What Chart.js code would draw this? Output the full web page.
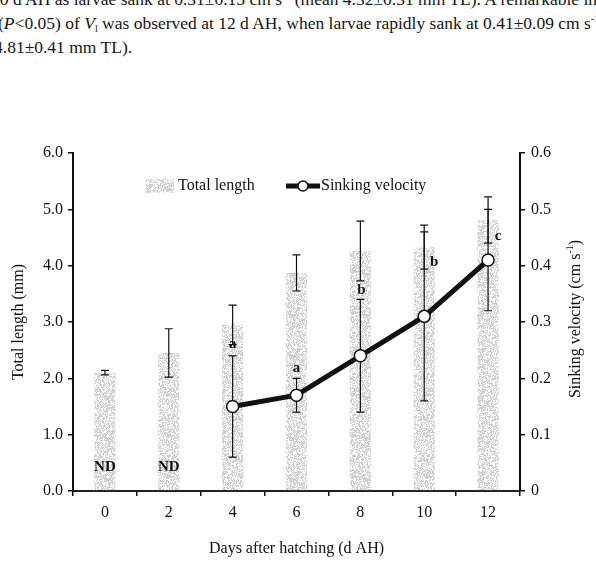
<!DOCTYPE html>
<html>
<head>
<meta charset="utf-8">
<script src="https://cdn.jsdelivr.net/npm/chart.js@4.4.1/dist/chart.umd.min.js"></script>
<style>
  html, body { margin: 0; padding: 0; background: #fff; }
  #wrap { position: relative; width: 596px; height: 572px; overflow: hidden; }
  #chart { position: absolute; left: 0; top: 0; }
  .txt { position: absolute; white-space: nowrap; font-family: "Liberation Serif", serif; font-size: 17.5px; line-height: 17.5px; color: #151515; }
  .sup { font-size: 10px; position: relative; top: -7px; }
  .sub { font-size: 10px; position: relative; top: 3px; }
</style>
</head>
<body>
<div id="wrap">
  <div class="txt" style="left:-9px; top:-9px;">10 d AH as larvae sank at 0.31±0.15 cm s<span class="sup">-1</span> (mean 4.32±0.31 mm TL). A remarkable inc</div>
  <div class="txt" style="left:-2px; top:15px;">(<i>P</i>&lt;0.05) of <i>V</i><span class="sub">l</span> was observed at 12 d AH, when larvae rapidly sank at 0.41±0.09 cm s<span class="sup">-1</span> (</div>
  <div class="txt" style="left:-6px; top:39px;">4.81±0.41 mm TL).</div>
  <canvas id="chart" width="596" height="572"></canvas>
</div>
<script>
// data
const days = ['0', '2', '4', '6', '8', '10', '12'];
const totalLength = [2.1, 2.45, 2.95, 3.87, 4.26, 4.33, 4.81];
const totalLengthSd = [0.04, 0.43, 0.35, 0.32, 0.53, 0.39, 0.41];
const sinkingVelocity = [null, null, 0.15, 0.17, 0.24, 0.31, 0.41];
const sinkingVelocitySd = [null, null, 0.09, 0.03, 0.10, 0.15, 0.09];
const letters = [null, null, 'a', 'a', 'b', 'b', 'c'];
const noData = ['ND', 'ND', null, null, null, null, null];

const serif = '"Liberation Serif", "Times New Roman", serif';

// faint speckled grey fill, like the scanned bars (fixed hash, not data)
function makeStipple() {
    const w = 37, h = 41;
    const c = document.createElement('canvas');
    c.width = w; c.height = h;
    const g = c.getContext('2d');
    for (let i = 0; i < w * h; i++) {
        let k = Math.imul(i + 17, 2654435761) >>> 0;
        k ^= k >>> 15; k = Math.imul(k, 2246822519) >>> 0; k ^= k >>> 13;
        const r = k % 100;
        if (r < 4) g.fillStyle = 'rgba(150,150,150,0.45)';
        else if (r < 13) g.fillStyle = 'rgba(200,200,200,0.4)';
        else continue;
        g.fillRect(i % w, Math.floor(i / w), 1, 1);
    }
    return document.getElementById('chart').getContext('2d').createPattern(c, 'repeat');
}
const stipple = makeStipple();

function errBar(ctx, x, yTop, yBot) {
    ctx.beginPath();
    ctx.moveTo(x, yTop); ctx.lineTo(x, yBot);
    ctx.moveTo(x - 4, yTop); ctx.lineTo(x + 4, yTop);
    ctx.moveTo(x - 4, yBot); ctx.lineTo(x + 4, yBot);
    ctx.stroke();
}

const errorBars = {
    id: 'errorBars',
    afterDatasetDraw(chart, args) {
        if (args.index !== 0) return;
        const ctx = chart.ctx;
        const x = chart.scales.x, y = chart.scales.y, y1 = chart.scales.y1;
        ctx.save();
        ctx.strokeStyle = '#111';
        ctx.lineWidth = 1.2;
        days.forEach((d, i) => {
            const px = x.getPixelForValue(i);
            errBar(ctx, px, y.getPixelForValue(totalLength[i] + totalLengthSd[i]),
                y.getPixelForValue(totalLength[i] - totalLengthSd[i]));
            if (sinkingVelocity[i] !== null) {
                errBar(ctx, px, y1.getPixelForValue(sinkingVelocity[i] + sinkingVelocitySd[i]),
                    y1.getPixelForValue(sinkingVelocity[i] - sinkingVelocitySd[i]));
            }
        });
        ctx.restore();
    }
};

const annotations = {
    id: 'annotations',
    afterDraw(chart) {
        const ctx = chart.ctx;
        const x = chart.scales.x, y = chart.scales.y, y1 = chart.scales.y1;
        ctx.save();
        ctx.fillStyle = '#111';
        ctx.textAlign = 'center';
        ctx.textBaseline = 'middle';

        // ND labels
        ctx.font = 'bold 15px ' + serif;
        noData.forEach((t, i) => {
            if (t) ctx.fillText(t, x.getPixelForValue(i), y.getPixelForValue(0.43));
        });

        // significance letters
        ctx.font = 'bold 15px ' + serif;
        letters.forEach((t, i) => {
            if (!t) return;
            const px = x.getPixelForValue(i);
            const lowTL = y.getPixelForValue(totalLength[i] - totalLengthSd[i]);
            const topV = y1.getPixelForValue(sinkingVelocity[i] + sinkingVelocitySd[i]);
            if (i === 2) ctx.fillText(t, px, lowTL);
            else if (i === 3) ctx.fillText(t, px, topV - 10);
            else if (i === 4) ctx.fillText(t, px + 1, (lowTL + topV) / 2);
            else ctx.fillText(t, px + 10, lowTL - 7);
        });

        // legend inside the plot
        const ly = 186;
        ctx.fillStyle = stipple;
        ctx.fillRect(146, ly - 7, 28, 14);
        ctx.fillStyle = '#111';
        ctx.font = '16px ' + serif;
        ctx.textAlign = 'left';
        ctx.fillText('Total length', 178, ly);
        ctx.strokeStyle = '#111';
        ctx.lineWidth = 5;
        ctx.beginPath(); ctx.moveTo(286, ly); ctx.lineTo(320, ly); ctx.stroke();
        ctx.beginPath(); ctx.arc(303, ly, 5, 0, Math.PI * 2);
        ctx.fillStyle = '#fff'; ctx.fill();
        ctx.lineWidth = 1.5; ctx.stroke();
        ctx.fillStyle = '#111';
        ctx.fillText('Sinking velocity', 321, ly);

        // right axis title, read bottom to top like the left one
        ctx.translate(576, (y1.top + y1.bottom) / 2 - 3);
        ctx.rotate(-Math.PI / 2);
        const main = 'Sinking velocity (cm s';
        ctx.font = '16px ' + serif;
        const wMain = ctx.measureText(main).width;
        ctx.font = '10px ' + serif;
        const wSup = ctx.measureText('-1').width;
        ctx.font = '16px ' + serif;
        const wEnd = ctx.measureText(')').width;
        let sx = -(wMain + wSup + wEnd) / 2;
        ctx.textAlign = 'left';
        ctx.fillText(main, sx, 0);
        sx += wMain;
        ctx.font = '10px ' + serif;
        ctx.fillText('-1', sx, -6);
        sx += wSup;
        ctx.font = '16px ' + serif;
        ctx.fillText(')', sx, 0);
        ctx.restore();
    }
};

const tickFont = { family: serif, size: 16 };
const titleFont = { family: serif, size: 16 };

new Chart(document.getElementById('chart'), {
    data: {
        labels: days,
        datasets: [
            {
                type: 'bar',
                label: 'Total length',
                data: totalLength,
                yAxisID: 'y',
                backgroundColor: stipple,
                borderWidth: 0,
                barPercentage: 0.33,
                categoryPercentage: 1.0,
                order: 2
            },
            {
                type: 'line',
                label: 'Sinking velocity',
                data: sinkingVelocity,
                yAxisID: 'y1',
                borderColor: '#111',
                borderWidth: 5,
                pointRadius: 6,
                pointBackgroundColor: '#fff',
                pointBorderColor: '#111',
                pointBorderWidth: 1.5,
                tension: 0,
                order: 1
            }
        ]
    },
    options: {
        responsive: false,
        animation: false,
        layout: { padding: { top: 153, left: 0, right: 0, bottom: 0 } },
        plugins: { legend: { display: false }, tooltip: { enabled: false } },
        scales: {
            x: {
                type: 'category',
                offset: true,
                grid: { offset: true, drawOnChartArea: false, tickLength: 5, color: '#111', lineWidth: 1.5 },
                border: { display: true, color: '#222', width: 2 },
                ticks: { font: tickFont, color: '#111', padding: 7, maxRotation: 0 },
                title: { display: true, text: 'Days after hatching (d AH)', font: titleFont, color: '#111', padding: { top: 0, bottom: 14 } },
                afterFit: s => { s.height = 81; }
            },
            y: {
                position: 'left',
                min: 0, max: 6,
                grid: { drawOnChartArea: false, tickLength: 5, color: '#111', lineWidth: 1.5 },
                border: { display: true, color: '#111', width: 2 },
                ticks: { stepSize: 1, font: tickFont, color: '#111', padding: 5, callback: v => v.toFixed(1) },
                title: { display: true, text: 'Total length (mm)', font: titleFont, color: '#111', padding: { top: 9, bottom: 0 } },
                afterFit: s => { s.width = 73; }
            },
            y1: {
                position: 'right',
                min: 0, max: 0.6,
                grid: { drawOnChartArea: false, tickLength: 5, color: '#111', lineWidth: 1.5 },
                border: { display: true, color: '#111', width: 2 },
                ticks: { stepSize: 0.1, font: tickFont, color: '#111', padding: 6, callback: v => v === 0 ? '0' : v.toFixed(1) },
                title: { display: false },
                afterFit: s => { s.width = 76; }
            }
        }
    },
    plugins: [errorBars, annotations]
});
</script>
</body>
</html>
